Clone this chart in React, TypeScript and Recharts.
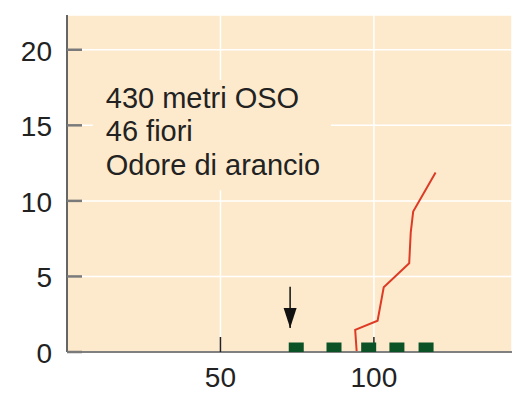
import React from 'react';
import { ComposedChart, XAxis, YAxis, CartesianGrid, Line, Scatter, ReferenceArea } from 'recharts';

// red curve: cumulative visits vs time
const curveX = [94.4, 93.9, 101.2, 103.2, 111.5, 112, 112.8, 120.1];
const curveY = [0, 1.46, 2.07, 4.28, 5.87, 7.9, 9.29, 11.87];
// green markers on the baseline
const flowerX = [74.7, 87, 98.3, 107.5, 117];
// arrow (start at top, tip at bottom)
const arrowX = [72.7, 72.7];
const arrowY = [4.32, 1.59];

const xTicks = [50, 100];
const yTicks = [0, 5, 10, 15, 20];
const noteLines = ['430 metri OSO', '46 fiori', 'Odore di arancio'];

const curve = curveX.map((x, i) => ({ x, y: curveY[i] }));
const flowers = flowerX.map((x) => ({ x, y: 0 }));
const arrow = arrowX.map((x, i) => ({ x, y: arrowY[i] }));

const BG = '#fdeacc';
const FONT = 'Liberation Sans, Arial, Helvetica, sans-serif';

const FlowerMark = (p: any) => (
  <rect x={p.cx - 7.5} y={p.cy - 9.5} width={15} height={9.5} fill="#0b5226" />
);

const ArrowHead = (p: any) => {
  if (p.index !== arrow.length - 1) return <g key={p.index} />;
  const { cx, cy } = p;
  return <path key={p.index} d={`M${cx - 6.5},${cy - 20} L${cx + 6.5},${cy - 20} L${cx},${cy} Z`} fill="#111" />;
};

const Note = (props: any) => {
  const vb = props.viewBox || {};
  return (
    <g>
      {noteLines.map((t, i) => (
        <text key={t} x={vb.x + 13} y={vb.y + 28 + i * 33.5} fontSize={29} fill="#222" fontFamily={FONT}>
          {t}
        </text>
      ))}
    </g>
  );
};

export default function App() {
  return (
    <div style={{ position: 'absolute', left: 0, top: 0, width: 518, height: 405, background: '#fff' }}>
      <ComposedChart width={518} height={405} margin={{ top: 15, right: 6, left: 0, bottom: 0 }}>
        <CartesianGrid fill={BG} stroke="#fff" strokeWidth={1.5} />
        <XAxis
          type="number"
          dataKey="x"
          domain={[0, 145]}
          ticks={xTicks}
          allowDataOverflow
          height={53}
          tickSize={-15}
          tickMargin={30}
          axisLine={{ stroke: '#808080', strokeWidth: 2 }}
          tickLine={{ stroke: '#222', strokeWidth: 1.5 }}
          tick={{ fill: '#222', fontSize: 28, fontFamily: FONT }}
        />
        <YAxis
          type="number"
          dataKey="y"
          domain={[0, 22.3]}
          ticks={yTicks}
          allowDataOverflow
          width={67}
          tickSize={-15}
          tickMargin={30}
          axisLine={{ stroke: '#666', strokeWidth: 2 }}
          tickLine={{ stroke: '#7a7a7a', strokeWidth: 2.5 }}
          tick={{ fill: '#222', fontSize: 28, fontFamily: FONT, dy: 1 }}
        />
        <ReferenceArea x1={8.4} x2={86} y1={10.7} y2={18} fill={BG} fillOpacity={1} stroke="none" label={<Note />} />
        <Line
          data={curve}
          dataKey="y"
          type="linear"
          stroke="#dd3b26"
          strokeWidth={2}
          dot={false}
          isAnimationActive={false}
        />
        <Line
          data={arrow}
          dataKey="y"
          type="linear"
          stroke="#111"
          strokeWidth={1.5}
          dot={ArrowHead}
          isAnimationActive={false}
        />
        <Scatter data={flowers} dataKey="y" shape={FlowerMark} isAnimationActive={false} />
      </ComposedChart>
    </div>
  );
}
